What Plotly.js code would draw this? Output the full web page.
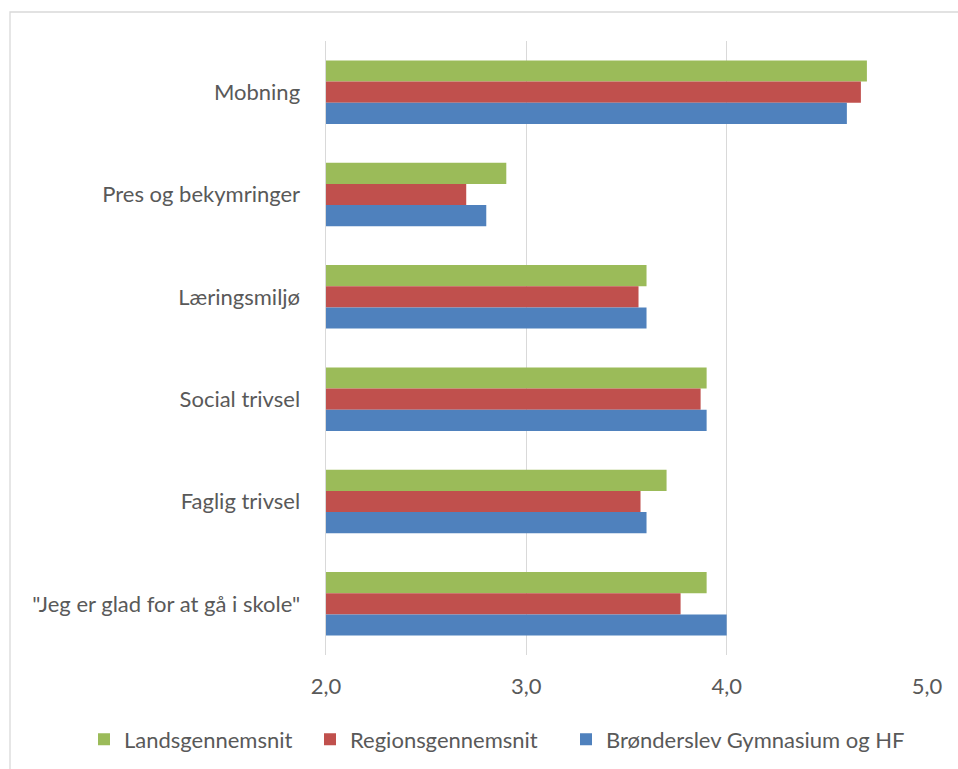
<!DOCTYPE html>
<html>
<head>
<meta charset="utf-8">
<script src="https://cdn.plot.ly/plotly-3.0.1.min.js"></script>
<style>
html,body{margin:0;padding:0;background:#fff;}
#chart{width:958px;height:769px;}
</style>
</head>
<body>
<div id="chart"></div>
<script>
// Categories, top to bottom as in the reference
const categories = ["Mobning", "Pres og bekymringer", "Læringsmiljø", "Social trivsel", "Faglig trivsel", "\"Jeg er glad for at gå i skole\""];
const seriesNames = ["Landsgennemsnit", "Regionsgennemsnit", "Brønderslev Gymnasium og HF"];
const landsValues = [4.70, 2.90, 3.60, 3.90, 3.70, 3.90];
const regionValues = [4.67, 2.70, 3.56, 3.87, 3.57, 3.77];
const schoolValues = [4.60, 2.80, 3.60, 3.90, 3.60, 4.00];
const xTicks = [2, 3, 4, 5];
const colors = ["#9BBB59", "#C0504D", "#4F81BD"];

const font = "Lato, 'Open Sans', sans-serif";
const textColor = "#595959";

function mk(name, vals, color, legendId) {
  return {
    type: "bar",
    orientation: "h",
    name: name,
    y: categories,
    x: vals,
    legend: legendId,
    marker: {color: color, line: {width: 0}},
    hoverinfo: "x+name"
  };
}

const traces = [
  mk(seriesNames[0], landsValues, colors[0], "legend"),
  mk(seriesNames[1], regionValues, colors[1], "legend2"),
  mk(seriesNames[2], schoolValues, colors[2], "legend3")
];

// pixel helpers for frame and legend placement
const L = 326, R = 31, T = 41, B = 113.5;
const W = 958, H = 769;
const pw = W - L - R, ph = H - T - B;
const px = v => (v - L) / pw;
const py = v => (H - B - v) / ph;

function legendAt(xPix) {
  return {
    orientation: "h",
    x: px(xPix),
    xanchor: "left",
    y: py(740),
    yanchor: "middle",
    font: {family: font, size: 22, color: textColor},
    itemclick: false,
    bgcolor: "rgba(0,0,0,0)"
  };
}

const layout = {
  width: W, height: H,
  margin: {l: L, r: R, t: T, b: B, pad: 0, autoexpand: false},
  paper_bgcolor: "#ffffff",
  plot_bgcolor: "#ffffff",
  barmode: "group",
  bargap: 0.38,
  bargroupgap: 0,
  separators: ",.",
  font: {family: font, color: textColor, size: 22},
  showlegend: true,
  legend: legendAt(84),
  legend2: legendAt(310),
  legend3: legendAt(566),
  xaxis: {
    range: [2, 5],
    tickvals: xTicks,
    tickformat: ".1f",
    showgrid: true,
    gridcolor: "#D9D9D9",
    gridwidth: 1.5,
    zeroline: false,
    showline: false,
    ticks: "outside",
    ticklen: 12,
    tickcolor: "rgba(0,0,0,0)",
    tickfont: {family: font, size: 22, color: textColor},
    fixedrange: true
  },
  yaxis: {
    type: "category",
    autorange: "reversed",
    showgrid: false,
    zeroline: false,
    showline: true,
    linecolor: "#D9D9D9",
    linewidth: 1.5,
    ticks: "outside",
    ticklen: 20,
    tickcolor: "rgba(0,0,0,0)",
    tickfont: {family: font, size: 22, color: textColor},
    fixedrange: true
  },
  shapes: [{
    type: "rect",
    xref: "paper", yref: "paper",
    x0: px(10), x1: px(965),
    y0: py(775), y1: py(12),
    line: {color: "#D9D9D9", width: 1.3},
    fillcolor: "rgba(0,0,0,0)",
    layer: "below"
  }]
};

Plotly.newPlot("chart", traces, layout, {displayModeBar: false, staticPlot: true});
</script>
</body>
</html>
